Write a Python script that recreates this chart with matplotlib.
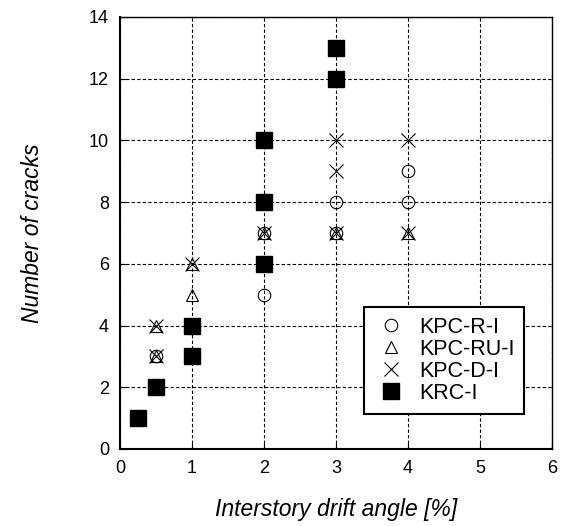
import matplotlib
matplotlib.use("Agg")
import matplotlib.pyplot as plt

plt.rcParams['font.family'] = ['Liberation Sans', 'DejaVu Sans']

r_x = [0.5, 2, 2, 3, 3, 4, 4]
r_y = [3, 5, 7, 7, 8, 8, 9]
ru_x = [0.5, 0.5, 1, 1, 2, 3, 4]
ru_y = [3, 4, 5, 6, 7, 7, 7]
d_x = [0.5, 0.5, 1, 2, 3, 3, 3, 4, 4]
d_y = [3, 4, 6, 7, 7, 9, 10, 7, 10]
k_x = [0.25, 0.5, 1, 1, 2, 2, 2, 3, 3]
k_y = [1, 2, 3, 4, 6, 8, 10, 12, 13]

labels = ['KPC-R-I', 'KPC-RU-I', 'KPC-D-I', 'KRC-I']
xticks = [0, 1, 2, 3, 4, 5, 6]
yticks = [0, 2, 4, 6, 8, 10, 12, 14]

fig = plt.figure(figsize=(5.65, 5.26), dpi=100)
ax = fig.add_axes([0.2124, 0.1464, 0.7646, 0.8213])

ax.plot(r_x, r_y, linestyle='none', marker='o', ms=9, mfc='none', mec='black', mew=0.8, label=labels[0], zorder=3)
ax.plot(ru_x, ru_y, linestyle='none', marker='^', ms=9, mfc='none', mec='black', mew=0.8, label=labels[1], zorder=3)
ax.plot(d_x, d_y, linestyle='none', marker='x', ms=10, mec='black', mew=0.8, label=labels[2], zorder=3)
ax.plot(k_x, k_y, linestyle='none', marker='s', ms=11, mfc='black', mec='black', label=labels[3], zorder=4)

ax.set_xlim(0, 6)
ax.set_ylim(0, 14)
ax.set_xticks(xticks)
ax.set_yticks(yticks)
ax.tick_params(axis='both', labelsize=13, direction='in', length=4, width=0.8, pad=8)
ax.grid(True, linestyle=(0, (3, 2)), color='black', linewidth=0.8)
for s in ['left', 'bottom']:
    ax.spines[s].set_linewidth(1.5)
for s in ['top', 'right']:
    ax.spines[s].set_linewidth(1.0)

ax.set_xlabel('Interstory drift angle [%]', fontsize=16.5, style='italic', labelpad=15)
ax.set_ylabel('Number of cracks', fontsize=16.5, style='italic', labelpad=32)

leg = ax.legend(loc='lower right', bbox_to_anchor=(0.960, 0.057), fontsize=15.5, frameon=True,
                fancybox=False, edgecolor='black', framealpha=1, handletextpad=0.5,
                borderpad=0.45, labelspacing=0.05, handlelength=1.6)
leg.get_frame().set_linewidth(1.5)

fig.savefig('out.png', dpi=100)
